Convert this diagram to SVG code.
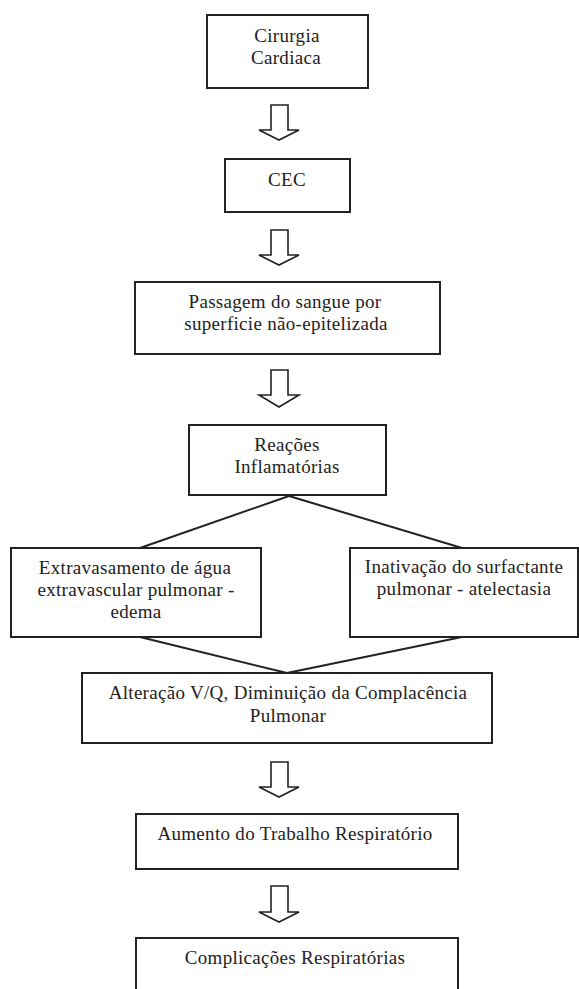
<svg xmlns="http://www.w3.org/2000/svg" width="579" height="989" viewBox="0 0 579 989">
<style>
.box{fill:#fff;stroke:#222;stroke-width:2}
.t{font-family:"Liberation Serif","Times New Roman",serif;font-size:19px;letter-spacing:0.3px;fill:#222;text-anchor:middle}
.arr{fill:#fff;stroke:#222;stroke-width:1.6;stroke-linejoin:miter}
.ln{stroke:#222;stroke-width:2;fill:none}
</style>
<rect width="579" height="989" fill="#fff"/>
<g id="connectors">
<polygon class="arr" points="271,105 288,105 288,130 299,130 279,140 259,130 271,130"/>
<polygon class="arr" points="271,230 288,230 288,255 299,255 279,265 259,255 271,255"/>
<polygon class="arr" points="271,370 288,370 288,395 299,395 279,407 259,395 271,395"/>
<line class="ln" x1="289" y1="496" x2="140" y2="548"/>
<line class="ln" x1="289" y1="496" x2="462" y2="548"/>
<line class="ln" x1="140" y1="637" x2="287" y2="673"/>
<line class="ln" x1="462" y1="637" x2="287" y2="673"/>
<polygon class="arr" points="271,762 288,762 288,787 299,787 279,797 259,787 271,787"/>
<polygon class="arr" points="271,886 288,886 288,912 299,912 279,922 259,912 271,912"/>
</g>
<g id="n1"><rect class="box" x="207" y="15" width="161" height="73"/>
<text class="t" x="287" y="42">Cirurgia</text><text class="t" x="286" y="64">Cardiaca</text></g>
<g id="n2"><rect class="box" x="225" y="159" width="125" height="53"/>
<text class="t" x="287" y="186">CEC</text></g>
<g id="n3"><rect class="box" x="135" y="282" width="305" height="72"/>
<text class="t" x="285" y="308">Passagem do sangue por</text><text class="t" x="286" y="330">superficie não-epitelizada</text></g>
<g id="n4"><rect class="box" x="189" y="425" width="197" height="70"/>
<text class="t" x="287" y="451">Reações</text><text class="t" x="287" y="473">Inflamatórias</text></g>
<g id="n5"><rect class="box" x="11" y="548" width="250" height="89"/>
<text class="t" x="135" y="574">Extravasamento de água</text><text class="t" x="136" y="596">extravascular pulmonar -</text><text class="t" x="136" y="618">edema</text></g>
<g id="n6"><rect class="box" x="350" y="548" width="228" height="89"/>
<text class="t" x="464" y="573">Inativação do surfactante</text><text class="t" x="464" y="595">pulmonar - atelectasia</text></g>
<g id="n7"><rect class="box" x="82" y="673" width="410" height="70"/>
<text class="t" x="288" y="699">Alteração V/Q, Diminuição da Complacência</text><text class="t" x="288" y="722">Pulmonar</text></g>
<g id="n8"><rect class="box" x="136" y="814" width="322" height="55"/>
<text class="t" x="295" y="840">Aumento do Trabalho Respiratório</text></g>
<g id="n9"><rect class="box" x="136" y="938" width="322" height="60"/>
<text class="t" x="295" y="964">Complicações Respiratórias</text></g>
</svg>
